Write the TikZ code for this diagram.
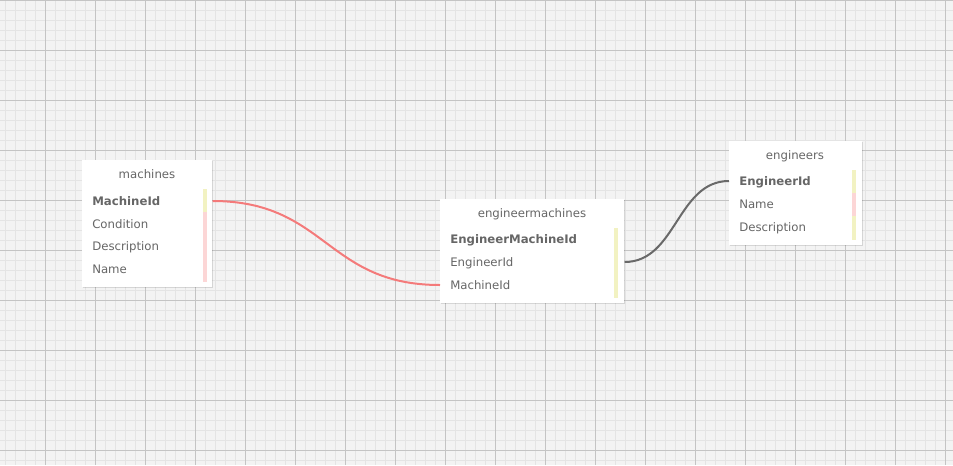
\documentclass[tikz,border=0pt]{standalone}
\usepackage{fontspec}
\setmainfont{DejaVu Sans}
\usetikzlibrary{shadows}

\definecolor{gridbg}{HTML}{F3F3F3}
\definecolor{gridminor}{HTML}{E4E4E4}
\definecolor{gridmajor}{HTML}{C4C4C4}
\definecolor{textgray}{HTML}{666666}
\definecolor{keyyellow}{HTML}{F2F2C2}
\definecolor{fieldpink}{HTML}{FCD6D6}
\definecolor{linkred}{HTML}{F47A7A}
\definecolor{linkgray}{HTML}{696969}

\tikzset{
  entity/.style={rectangle, fill=white, inner sep=0, anchor=north west,
    drop shadow={shadow xshift=0.4pt, shadow yshift=-0.6pt, opacity=0.12, fill=black}},
  entitytitle/.style={font=\fontsize{8.8}{10}\selectfont, text=textgray, anchor=base, inner sep=0},
  field/.style={font=\fontsize{8.8}{10}\selectfont, text=textgray, anchor=base west,
    inner sep=0, text height=6pt, text depth=0pt},
  keyfield/.style={field, font=\fontsize{8.8}{10}\selectfont\bfseries},
  minorline/.style={gridminor, line width=0.75pt},
  majorline/.style={gridmajor, line width=0.75pt},
  redlink/.style={linkred, line width=1.5pt},
  graylink/.style={linkgray, line width=1.5pt}
}

\begin{document}
\begin{tikzpicture}[x=0.75pt, y=-0.75pt]
% Background and grid
\useasboundingbox (0,0) rectangle (953,465);
\fill[gridbg] (0,0) rectangle (953,465);
\foreach \x in {5,15,...,945} \draw[minorline] (\x,0) -- (\x,465);
\foreach \y in {0,10,...,460} \draw[minorline] (0,\y) -- (953,\y);
\foreach \x in {45,95,...,945} \draw[majorline] (\x,0) -- (\x,465);
\foreach \y in {0,50,...,450} \draw[majorline] (0,\y) -- (953,\y);

% Tables
\node[entity, minimum width=97.5pt, minimum height=95.25pt] (machines) at (82,160) {};
\node[entity, minimum width=138pt, minimum height=78pt] (engmach) at (440,199) {};
\node[entity, minimum width=99.75pt, minimum height=78pt] (engineers) at (729,141) {};

% Key bars
\fill[keyyellow] (203,189) rectangle (207,212);
\fill[fieldpink] (203,212) rectangle (207,282);
\fill[keyyellow] (614,228) rectangle (618,298);
\fill[keyyellow] (852,170) rectangle (856,193);
\fill[fieldpink] (852,193) rectangle (856,216);
\fill[keyyellow] (852,216) rectangle (856,240);

% machines
\node[entitytitle] (machinesTitle) at (147,178) {machines};
\node[keyfield] (mId) at (92,205) {MachineId};
\node[field] (mCondition) at (92,228) {Condition};
\node[field] (mDescription) at (92,250) {Description};
\node[field] (mName) at (92,273) {Name};

% engineermachines
\node[entitytitle] (engmachTitle) at (532,217) {engineermachines};
\node[keyfield] (emId) at (450,243) {EngineerMachineId};
\node[field] (emEngineer) at (450,266) {EngineerId};
\node[field] (emMachine) at (450,289) {MachineId};

% engineers
\node[entitytitle] (engineersTitle) at (795,159) {engineers};
\node[keyfield] (eId) at (739,185) {EngineerId};
\node[field] (eName) at (739,208) {Name};
\node[field] (eDescription) at (739,231) {Description};

% Links
\draw[redlink] (machines.east |- mId.center) .. controls +(114,0) and +(-114,0) .. (engmach.west |- emMachine.center);
\draw[graylink] (engmach.east |- emEngineer.center) .. controls +(52,0) and +(-52,0) .. (engineers.west |- eId.center);

\end{tikzpicture}
\end{document}
